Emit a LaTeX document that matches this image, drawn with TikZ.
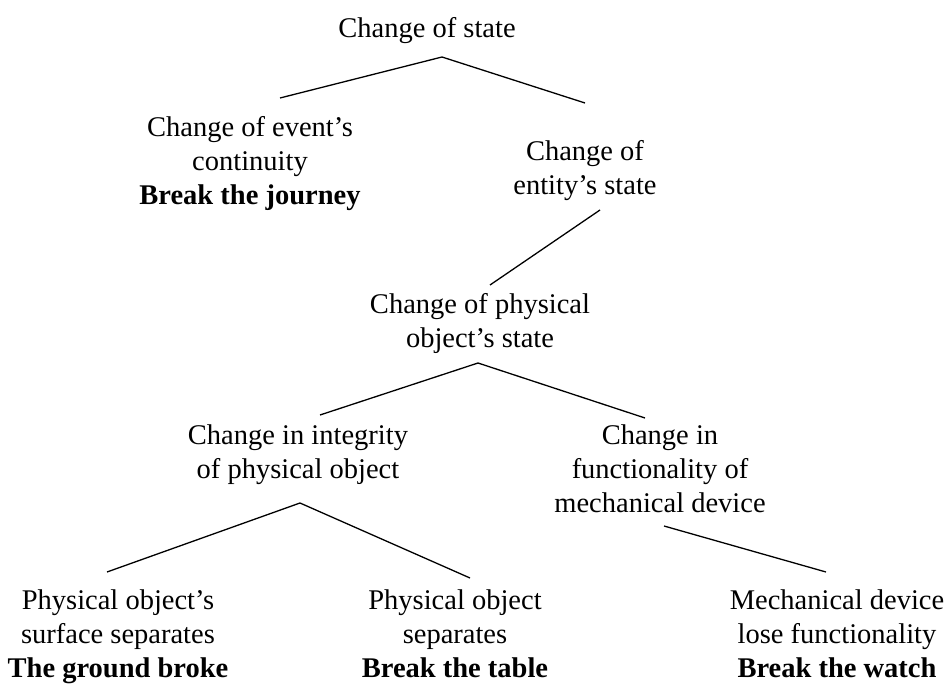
\documentclass[tikz,border=0pt]{standalone}
\usepackage{fontspec}
\setmainfont{Liberation Serif}
\begin{document}
\begin{tikzpicture}[x=1pt,y=-1pt,
  lbl/.style={anchor=base,align=center,inner sep=0pt,font=\fontsize{28.5}{34}\selectfont},
  conn/.style={line width=1.3pt,black}]
\useasboundingbox[fill=white] (0,0) rectangle (947,684);
\node[lbl] (root) at (427,38) {Change of state};
\node[lbl] (event) at (250,205) {Change of event’s\\continuity\\\textbf{Break the journey}};
\node[lbl] (entity) at (585,195) {Change of\\entity’s state};
\node[lbl] (phys) at (480,347) {Change of physical\\object’s state};
\node[lbl] (integ) at (298,478) {Change in integrity\\of physical object};
\node[lbl] (func) at (660,512) {Change in\\functionality of\\mechanical device};
\node[lbl] (surf) at (118,677) {Physical object’s\\surface separates\\\textbf{The ground broke}};
\node[lbl] (sep) at (455,677) {Physical object\\separates\\\textbf{Break the table}};
\node[lbl] (lose) at (837,677) {Mechanical device\\lose functionality\\\textbf{Break the watch}};
\draw[conn] ([shift={(30,-107)}]event.base) -- ([shift={(15,19)}]root.base) -- ([shift={(0,-92)}]entity.base);
\draw[conn] ([shift={(15,15)}]entity.base) -- ([shift={(10,-62)}]phys.base);
\draw[conn] ([shift={(22,-63)}]integ.base) -- ([shift={(-2,16)}]phys.base) -- ([shift={(-15,-94)}]func.base);
\draw[conn] ([shift={(-11,-105)}]surf.base) -- ([shift={(2,25)}]integ.base) -- ([shift={(15,-99)}]sep.base);
\draw[conn] ([shift={(4,14)}]func.base) -- ([shift={(-11,-105)}]lose.base);
\end{tikzpicture}
\end{document}
